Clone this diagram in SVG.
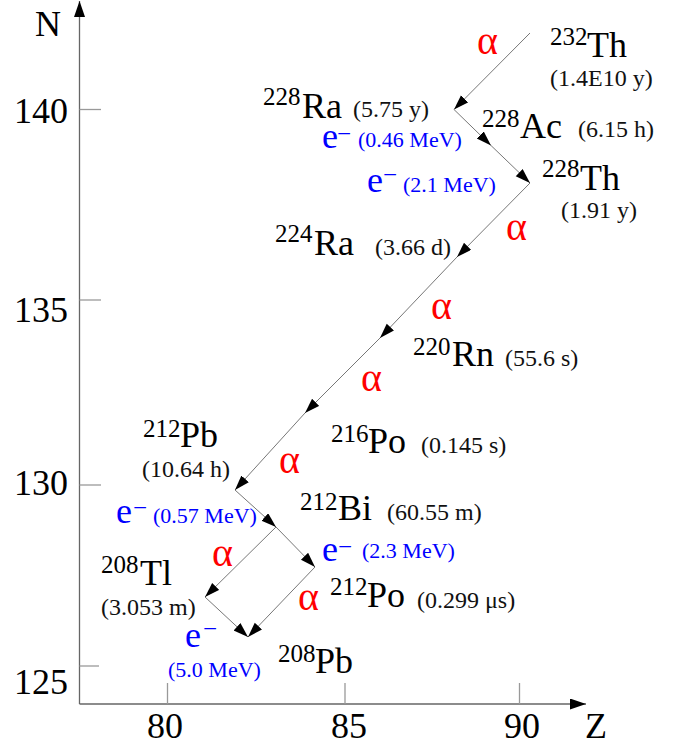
<svg xmlns="http://www.w3.org/2000/svg" width="683" height="746" viewBox="0 0 683 746" font-family="'Liberation Serif', 'DejaVu Serif', serif">
<style>
text, tspan{font-family:'Liberation Serif','DejaVu Serif',serif}
text{fill:#000}
.el{font-size:36px}
.sup{font-size:25px}
.hl{font-size:24px;fill:#111}
.ax{font-size:36px}
.a{font-size:40px;fill:#ff0000}
.b{fill:#0000ff}
.be{font-size:36px}
.bm{font-size:25px}
.bv{font-size:22px}
.axis{stroke:#666;stroke-width:1.3;fill:none}
.tick{stroke:#999;stroke-width:1.3}
.d{stroke:#777;stroke-width:1;fill:none;marker-end:url(#ah)}
</style>
<defs>
<marker id="ah" markerUnits="userSpaceOnUse" markerWidth="16" markerHeight="11" refX="15" refY="5" orient="auto">
<path d="M0,0 L15,5 L0,10 Z" fill="#000"/>
</marker>
<marker id="axh" markerUnits="userSpaceOnUse" markerWidth="17" markerHeight="12" refX="16" refY="5.5" orient="auto">
<path d="M0,0 L16,5.5 L0,11 Z" fill="#000"/>
</marker>
</defs>
<g id="axes">
<line class="axis" x1="79.5" y1="704" x2="79.5" y2="1" marker-end="url(#axh)"/>
<line class="axis" x1="79.5" y1="704" x2="586" y2="704" marker-end="url(#axh)"/>
<line class="tick" x1="79.5" y1="109.5" x2="101" y2="109.5"/>
<line class="tick" x1="79.5" y1="300" x2="101" y2="300"/>
<line class="tick" x1="79.5" y1="485" x2="101" y2="485"/>
<line class="tick" x1="79.5" y1="666" x2="99" y2="666"/>
<line class="tick" x1="167.5" y1="683" x2="167.5" y2="704"/>
<line class="tick" x1="345" y1="683" x2="345" y2="704"/>
<line class="tick" x1="519.5" y1="683" x2="519.5" y2="704"/>
<text class="ax" x="35" y="36">N</text>
<text class="ax" x="68" y="123" text-anchor="end">140</text>
<text class="ax" x="68" y="322" text-anchor="end">135</text>
<text class="ax" x="68" y="495" text-anchor="end">130</text>
<text class="ax" x="68" y="694" text-anchor="end">125</text>
<text class="ax" x="165" y="738" text-anchor="middle">80</text>
<text class="ax" x="349" y="738" text-anchor="middle">85</text>
<text class="ax" x="522" y="738" text-anchor="middle">90</text>
<text class="ax" x="585" y="738">Z</text>
</g>
<g id="connectors">
<line class="d" x1="530" y1="33" x2="454" y2="109.5"/>
<line class="d" x1="454" y1="109.5" x2="491" y2="145.5"/>
<line class="d" x1="491" y1="145.5" x2="530" y2="183"/>
<line class="d" x1="530" y1="183" x2="457" y2="257"/>
<line class="d" x1="457" y1="257" x2="380" y2="338"/>
<line class="d" x1="380" y1="338" x2="305" y2="413"/>
<line class="d" x1="305" y1="413" x2="235" y2="490"/>
<line class="d" x1="235" y1="490" x2="276" y2="527"/>
<line class="d" x1="276" y1="527" x2="205" y2="597"/>
<line class="d" x1="276" y1="527" x2="315" y2="567"/>
<line class="d" x1="205" y1="597" x2="248" y2="637"/>
<line class="d" x1="315" y1="567" x2="248" y2="637"/>
</g>
<g id="labels-decay">
<text class="a" x="477" y="54">α</text>
<text class="a" x="506" y="240">α</text>
<text class="a" x="431" y="319">α</text>
<text class="a" x="361" y="391">α</text>
<text class="a" x="279" y="473">α</text>
<text class="a" x="212" y="566">α</text>
<text class="a" x="298" y="610">α</text>
<text class="b"><tspan class="be" x="322" y="148">e</tspan><tspan class="bm" x="337" y="142">−</tspan><tspan class="bv" x="358" y="147">(0.46 MeV)</tspan></text>
<text class="b"><tspan class="be" x="367" y="192">e</tspan><tspan class="bm" x="383" y="183">−</tspan><tspan class="bv" x="403" y="192">(2.1 MeV)</tspan></text>
<text class="b"><tspan class="be" x="116" y="523">e</tspan><tspan class="bm" x="133" y="516">−</tspan><tspan class="bv" x="153" y="523">(0.57 MeV)</tspan></text>
<text class="b"><tspan class="be" x="322" y="561">e</tspan><tspan class="bm" x="338" y="555">−</tspan><tspan class="bv" x="362" y="558">(2.3 MeV)</tspan></text>
<text class="b"><tspan class="be" x="185" y="647">e</tspan><tspan class="bm" x="203" y="637">−</tspan><tspan class="bv" x="168" y="677">(5.0 MeV)</tspan></text>
</g>
<g id="Th232"><text><tspan class="sup" x="550" y="45">232</tspan><tspan class="el" x="587" y="57">Th</tspan></text><text class="hl" x="550" y="86">(1.4E10 y)</text></g>
<g id="Ra228"><text><tspan class="sup" x="263" y="105">228</tspan><tspan class="el" x="302" y="118">Ra</tspan></text><text class="hl" x="353" y="117">(5.75 y)</text></g>
<g id="Ac228"><text><tspan class="sup" x="482" y="127">228</tspan><tspan class="el" x="520" y="138">Ac</tspan></text><text class="hl" x="578" y="137">(6.15 h)</text></g>
<g id="Th228"><text><tspan class="sup" x="542" y="177">228</tspan><tspan class="el" x="580" y="190">Th</tspan></text><text class="hl" x="561" y="218">(1.91 y)</text></g>
<g id="Ra224"><text><tspan class="sup" x="275" y="242">224</tspan><tspan class="el" x="314" y="255">Ra</tspan></text><text class="hl" x="375" y="255">(3.66 d)</text></g>
<g id="Rn220"><text><tspan class="sup" x="413" y="355">220</tspan><tspan class="el" x="452" y="366">Rn</tspan></text><text class="hl" x="505" y="366">(55.6 s)</text></g>
<g id="Po216"><text><tspan class="sup" x="331" y="442">216</tspan><tspan class="el" x="368" y="453">Po</tspan></text><text class="hl" x="421" y="453">(0.145 s)</text></g>
<g id="Pb212"><text><tspan class="sup" x="143" y="437">212</tspan><tspan class="el" x="180" y="447">Pb</tspan></text><text class="hl" x="142" y="477">(10.64 h)</text></g>
<g id="Bi212"><text><tspan class="sup" x="300" y="510">212</tspan><tspan class="el" x="338" y="520">Bi</tspan></text><text class="hl" x="387" y="520">(60.55 m)</text></g>
<g id="Po212"><text><tspan class="sup" x="330" y="595">212</tspan><tspan class="el" x="367" y="607">Po</tspan></text><text class="hl" x="417" y="608">(0.299 μs)</text></g>
<g id="Tl208"><text><tspan class="sup" x="101" y="573">208</tspan><tspan class="el" x="140" y="585">Tl</tspan></text><text class="hl" x="101" y="615">(3.053 m)</text></g>
<g id="Pb208"><text><tspan class="sup" x="278" y="662">208</tspan><tspan class="el" x="315" y="673">Pb</tspan></text></g>
</svg>
